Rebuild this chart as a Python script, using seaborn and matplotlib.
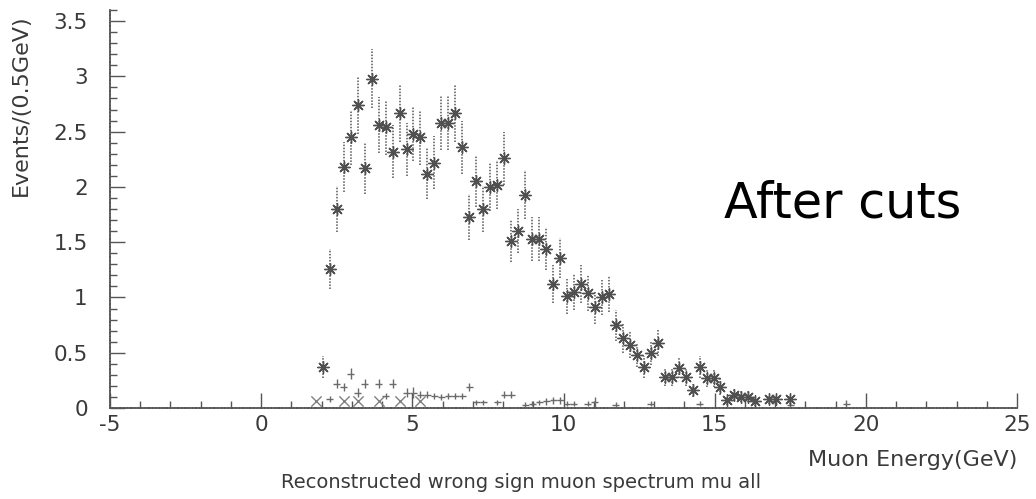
import numpy as np
import pandas as pd
import matplotlib
matplotlib.use("Agg")
import matplotlib.pyplot as plt
from matplotlib.ticker import MultipleLocator
import seaborn as sns

# Histogram binning: 130 bins between -5 and 25 GeV
EDGES = np.linspace(-5, 25, 131)
CENTERS = 0.5 * (EDGES[:-1] + EDGES[1:])
HALF_W = 0.5 * (EDGES[1] - EDGES[0])

# Wrong-sign muon candidates after cuts (bin number, events, error)
main_bins = list(range(30, 93)) + [94, 95, 97]
main_vals = [0.37, 1.26, 1.80, 2.18, 2.45, 2.74, 2.17, 2.98, 2.56, 2.54,
             2.32, 2.67, 2.34, 2.48, 2.45, 2.12, 2.22, 2.58, 2.58, 2.67,
             2.36, 1.73, 2.05, 1.80, 2.00, 2.02, 2.26, 1.51, 1.60, 1.93,
             1.53, 1.53, 1.44, 1.12, 1.36, 1.01, 1.05, 1.12, 1.04, 0.91,
             1.00, 1.03, 0.75, 0.63, 0.57, 0.48, 0.37, 0.50, 0.59, 0.28,
             0.28, 0.36, 0.28, 0.16, 0.37, 0.27, 0.27, 0.19, 0.07, 0.12,
             0.10, 0.10, 0.06, 0.08, 0.08, 0.08]
main_errs = [0.10, 0.18, 0.21, 0.23, 0.25, 0.26, 0.23, 0.27, 0.25, 0.25,
             0.24, 0.26, 0.24, 0.25, 0.25, 0.23, 0.24, 0.25, 0.25, 0.26,
             0.24, 0.21, 0.23, 0.21, 0.22, 0.22, 0.24, 0.19, 0.20, 0.22,
             0.20, 0.20, 0.19, 0.17, 0.18, 0.16, 0.16, 0.17, 0.16, 0.15,
             0.16, 0.16, 0.14, 0.13, 0.12, 0.11, 0.10, 0.11, 0.12, 0.08,
             0.08, 0.09, 0.08, 0.06, 0.10, 0.08, 0.08, 0.07, 0.04, 0.05,
             0.05, 0.05, 0.04, 0.04, 0.04, 0.04]

# Background components
bkg1_bins = [31, 32, 33, 34, 35, 36, 38, 39, 40, 42, 43, 44, 45, 46, 47,
             48, 49, 50, 51, 52, 53, 55, 56, 57, 59, 60, 61, 62, 63, 64,
             65, 66, 68, 69, 72, 77, 84, 97, 105]
bkg1_vals = [0.08, 0.22, 0.19, 0.31, 0.14, 0.22, 0.22, 0.11, 0.22, 0.14,
             0.14, 0.12, 0.12, 0.11, 0.10, 0.11, 0.11, 0.11, 0.19, 0.05,
             0.05, 0.05, 0.12, 0.12, 0.03, 0.04, 0.05, 0.06, 0.07, 0.07,
             0.04, 0.04, 0.04, 0.05, 0.03, 0.04, 0.04, 0.03, 0.04]
bkg1_errs = [0.03, 0.04, 0.04, 0.05, 0.04, 0.04, 0.04, 0.03, 0.04, 0.04,
             0.05, 0.03, 0.03, 0.03, 0.03, 0.03, 0.03, 0.03, 0.04, 0.02,
             0.02, 0.02, 0.03, 0.03, 0.02, 0.02, 0.02, 0.03, 0.03, 0.03,
             0.02, 0.02, 0.02, 0.05, 0.02, 0.02, 0.02, 0.02, 0.03]

bkg2_bins = [29, 33, 35, 38, 41, 44]
bkg2_vals = [0.06, 0.06, 0.06, 0.06, 0.06, 0.06]

X_TICKS = [-5, 0, 5, 10, 15, 20, 25]
Y_TICKS = [0, 0.5, 1, 1.5, 2, 2.5, 3, 3.5]

main = pd.DataFrame({"energy": CENTERS[main_bins], "events": main_vals, "err": main_errs})
bkg1 = pd.DataFrame({"energy": CENTERS[bkg1_bins], "events": bkg1_vals, "err": bkg1_errs})
bkg2 = pd.DataFrame({"energy": CENTERS[bkg2_bins], "events": bkg2_vals})

sns.set_theme(style="white")
plt.rcParams["font.family"] = ["DejaVu Sans"]

W, H = 1036, 499
fig = plt.figure(figsize=(W / 100, H / 100), dpi=100)
ax = fig.add_axes([110 / W, 1 - 408 / H, (1017 - 110) / W, (408 - 10) / H])

ink = "#555555"
text_ink = "#3a3a3a"

# error bars of the signal histogram
eb = ax.errorbar(main["energy"], main["events"], yerr=main["err"], fmt="none",
                 ecolor="#555555", elinewidth=1.1, capsize=0, zorder=2)
for coll in eb[2]:
    coll.set_linestyle((0, (1.0, 1.0)))
sns.scatterplot(data=main, x="energy", y="events", ax=ax, marker=(8, 2, 0),
                s=70, color="#505050", linewidth=1.0, zorder=3)

# background histograms
ax.errorbar(bkg1["energy"], bkg1["events"], yerr=bkg1["err"], xerr=HALF_W,
            fmt="none", ecolor="#6a6a6a", elinewidth=1.0, capsize=0, zorder=2)
sns.scatterplot(data=bkg2, x="energy", y="events", ax=ax, marker="x",
                s=55, color="#808080", linewidth=1.0, zorder=2)

ax.set_xlim(-5, 25)
ax.set_ylim(0, 3.6)
ax.set_xticks(X_TICKS)
ax.set_xticklabels([str(t) for t in X_TICKS])
ax.set_yticks(Y_TICKS)
ax.set_yticklabels([f"{t:g}" for t in Y_TICKS])
ax.xaxis.set_minor_locator(MultipleLocator(1))
ax.yaxis.set_minor_locator(MultipleLocator(0.1))
ax.set_xlabel("")
ax.set_ylabel("")

for side in ("top", "right"):
    ax.spines[side].set_visible(False)
for side in ("left", "bottom"):
    ax.spines[side].set_color(ink)
    ax.spines[side].set_linewidth(1.3)
    ax.spines[side].set_linestyle((0, (1.2, 0.8)))

ax.tick_params(axis="both", which="major", direction="in", length=11,
               width=1.0, color=ink, labelcolor=text_ink, labelsize=15.5)
ax.tick_params(axis="both", which="minor", direction="in", length=5,
               width=1.0, color=ink)
ax.tick_params(axis="y", which="major", pad=16)
ax.tick_params(axis="x", which="major", pad=5)
ax.tick_params(axis="both", which="both", bottom=True, left=True)

fig.text(21 / W, 1 - 14 / H, "Events/(0.5GeV)", rotation=90, ha="center",
         va="top", fontsize=16, color=text_ink)
fig.text(1017 / W, 1 - 460 / H, "Muon Energy(GeV)", ha="right", va="center",
         fontsize=16, color=text_ink)
fig.text(521 / W, 1 - 482 / H, "Reconstructed wrong sign muon spectrum mu all",
         ha="center", va="center", fontsize=14, color=text_ink)
fig.text(724 / W, 1 - 218 / H, "After cuts", ha="left", va="baseline",
         fontsize=35.5, color="black")

fig.savefig("out.png", dpi=100, facecolor="white")
